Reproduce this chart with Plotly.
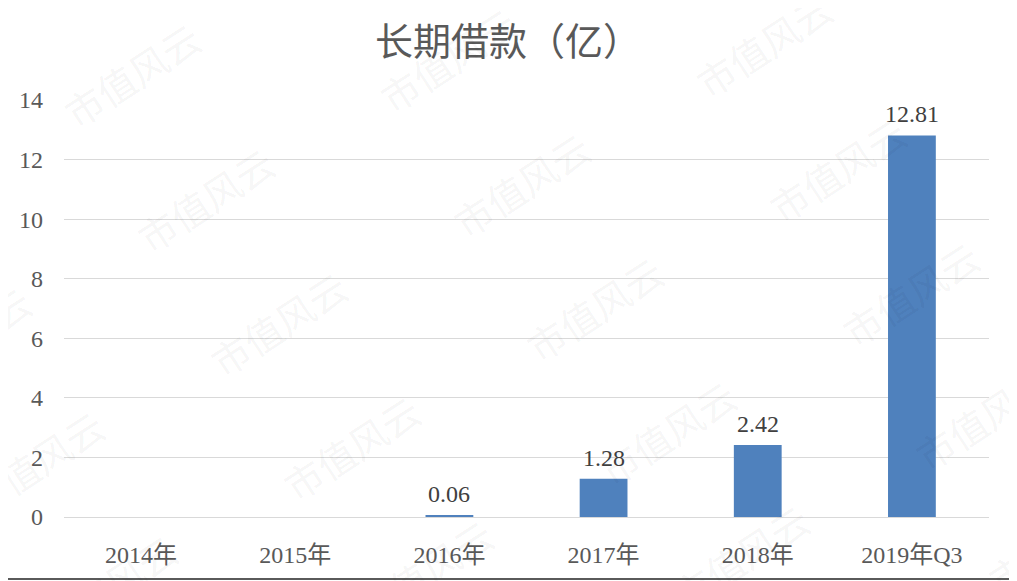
"""
长期借款（亿） bar chart, Excel-style look with the 市值风云 watermark.
"""
import plotly.graph_objects as go

# data
categories = ["2014年", "2015年", "2016年", "2017年", "2018年", "2019年Q3"]
loans = [None, None, 0.06, 1.28, 2.42, 12.81]
y_ticks = [0, 2, 4, 6, 8, 10, 12, 14]

title_text = "长期借款（亿）"
watermark_text = "市值风云"

SERIF = "Liberation Serif, Times New Roman, Noto Sans CJK SC, serif"
CJK = "Noto Sans CJK SC, sans-serif"
BAR_COLOR = "#4f81bd"
GRID = "#d9d9d9"

# the page body adds an 8px margin, so the figure is drawn 8px in from the corner
OFF = 8
W, H = 1017 - OFF, 581 - OFF
L, R, T, B = 64 - OFF, 28, 100 - OFF, 64
pw, ph = W - L - R, H - T - B

fig = go.Figure()
fig.add_trace(go.Bar(
    x=categories,
    y=loans,
    marker=dict(color=BAR_COLOR, line=dict(width=0)),
    hoverinfo="x+y",
))

# value labels above the bars
for cat, val in zip(categories, loans):
    if val is None:
        continue
    fig.add_annotation(
        x=cat, y=val, text=f"{val:.2f}", showarrow=False,
        yanchor="bottom", yshift=6,
        font=dict(family=SERIF, size=24, color="#404040"),
    )

# diagonal watermark lattice (screen pixel positions)
base_x, base_y = 132, 75
step_a = (316, -15)
step_b = (73, 124)
for i in range(-1, 4):
    for k in range(-1, 5):
        sx = base_x + i * step_a[0] + k * step_b[0] - OFF
        sy = base_y + i * step_a[1] + k * step_b[1] - OFF
        if sx < -120 or sx > W + 120 or sy < -80 or sy > H + 80:
            continue
        fig.add_annotation(
            xref="paper", yref="paper",
            x=(sx - L) / pw, y=(H - B - sy) / ph,
            text=watermark_text, showarrow=False, textangle=-33,
            xanchor="center", yanchor="middle",
            font=dict(family=CJK, size=38, color="rgba(0,0,0,0.055)"),
        )

# dark rule along the bottom edge of the image
rule_y = -((579 - OFF) - (H - B)) / ph
fig.add_shape(
    type="line", xref="paper", yref="paper",
    x0=-0.2, x1=1.2, y0=rule_y, y1=rule_y,
    line=dict(color="#5a5a5a", width=2),
)

fig.update_layout(
    width=W, height=H,
    plot_bgcolor="white", paper_bgcolor="white",
    margin=dict(l=L, r=R, t=T, b=B),
    bargap=0.69,
    showlegend=False,
    title=dict(
        text=title_text, x=(508 - OFF - L) / pw, xref="paper", xanchor="center",
        y=1 - (42 - OFF) / H, yanchor="middle",
        font=dict(family=CJK, size=38, color="#595959"),
    ),
    font=dict(family=SERIF, color="#595959"),
)
fig.update_xaxes(
    type="category", showgrid=False, showline=True, linecolor=GRID, linewidth=1,
    layer="above traces", ticks="", ticklabelstandoff=16,
    tickfont=dict(family=SERIF, size=24, color="#595959"),
)
fig.update_yaxes(
    range=[0, 14], tickvals=y_ticks, showgrid=True, gridcolor=GRID, gridwidth=1,
    zeroline=False, showline=False, ticks="", ticklabelstandoff=20,
    tickfont=dict(family=SERIF, size=24, color="#595959"),
)

fig.write_html("out.html")
